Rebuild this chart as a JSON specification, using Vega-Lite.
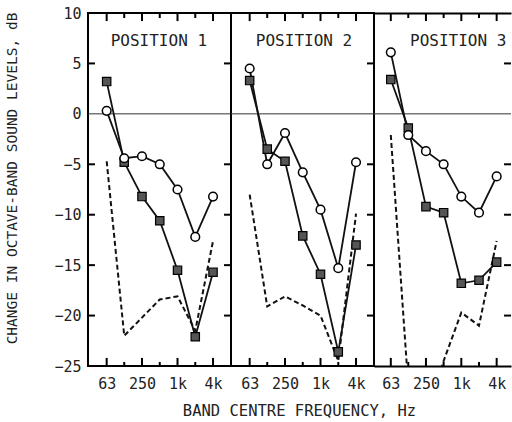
{
  "$schema": "https://vega.github.io/schema/vega-lite/v6.json",
  "padding": {"left": 2, "top": 5, "right": 0, "bottom": 0},
  "background": "white",
  "spacing": 0,
  "bounds": "flush",
  "config": {
    "view": {"stroke": "black", "strokeWidth": 2},
    "font": "DejaVu Sans Mono",
    "axis": {"minExtent": 0, "grid": false, "labelColor": "#222", "domainColor": "black", "domainWidth": 2, "titleColor": "#222", "titleFontWeight": "normal"}
  },
  "datasets": {
    "levels": [
      {"pos": 1, "s": "sq", "hz": 63, "dB": 3.2},
      {"pos": 1, "s": "sq", "hz": 125, "dB": -4.8},
      {"pos": 1, "s": "sq", "hz": 250, "dB": -8.2},
      {"pos": 1, "s": "sq", "hz": 500, "dB": -10.6},
      {"pos": 1, "s": "sq", "hz": 1000, "dB": -15.5},
      {"pos": 1, "s": "sq", "hz": 2000, "dB": -22.1},
      {"pos": 1, "s": "sq", "hz": 4000, "dB": -15.7},
      {"pos": 1, "s": "ci", "hz": 63, "dB": 0.3},
      {"pos": 1, "s": "ci", "hz": 125, "dB": -4.4},
      {"pos": 1, "s": "ci", "hz": 250, "dB": -4.2},
      {"pos": 1, "s": "ci", "hz": 500, "dB": -5.0},
      {"pos": 1, "s": "ci", "hz": 1000, "dB": -7.5},
      {"pos": 1, "s": "ci", "hz": 2000, "dB": -12.2},
      {"pos": 1, "s": "ci", "hz": 4000, "dB": -8.2},
      {"pos": 1, "s": "da", "hz": 63, "dB": -4.7},
      {"pos": 1, "s": "da", "hz": 125, "dB": -22.0},
      {"pos": 1, "s": "da", "hz": 250, "dB": -20.2},
      {"pos": 1, "s": "da", "hz": 500, "dB": -18.4},
      {"pos": 1, "s": "da", "hz": 1000, "dB": -18.1},
      {"pos": 1, "s": "da", "hz": 2000, "dB": -21.5},
      {"pos": 1, "s": "da", "hz": 4000, "dB": -12.6},
      {"pos": 2, "s": "sq", "hz": 63, "dB": 3.3},
      {"pos": 2, "s": "sq", "hz": 125, "dB": -3.5},
      {"pos": 2, "s": "sq", "hz": 250, "dB": -4.7},
      {"pos": 2, "s": "sq", "hz": 500, "dB": -12.1},
      {"pos": 2, "s": "sq", "hz": 1000, "dB": -15.9},
      {"pos": 2, "s": "sq", "hz": 2000, "dB": -23.6},
      {"pos": 2, "s": "sq", "hz": 4000, "dB": -13.0},
      {"pos": 2, "s": "ci", "hz": 63, "dB": 4.5},
      {"pos": 2, "s": "ci", "hz": 125, "dB": -5.0},
      {"pos": 2, "s": "ci", "hz": 250, "dB": -1.9},
      {"pos": 2, "s": "ci", "hz": 500, "dB": -5.8},
      {"pos": 2, "s": "ci", "hz": 1000, "dB": -9.5},
      {"pos": 2, "s": "ci", "hz": 2000, "dB": -15.3},
      {"pos": 2, "s": "ci", "hz": 4000, "dB": -4.8},
      {"pos": 2, "s": "da", "hz": 63, "dB": -8.0},
      {"pos": 2, "s": "da", "hz": 125, "dB": -19.1},
      {"pos": 2, "s": "da", "hz": 250, "dB": -18.1},
      {"pos": 2, "s": "da", "hz": 500, "dB": -19.0},
      {"pos": 2, "s": "da", "hz": 1000, "dB": -20.0},
      {"pos": 2, "s": "da", "hz": 2000, "dB": -24.5},
      {"pos": 2, "s": "da", "hz": 4000, "dB": -9.9},
      {"pos": 3, "s": "sq", "hz": 63, "dB": 3.4},
      {"pos": 3, "s": "sq", "hz": 125, "dB": -1.4},
      {"pos": 3, "s": "sq", "hz": 250, "dB": -9.2},
      {"pos": 3, "s": "sq", "hz": 500, "dB": -9.8},
      {"pos": 3, "s": "sq", "hz": 1000, "dB": -16.8},
      {"pos": 3, "s": "sq", "hz": 2000, "dB": -16.5},
      {"pos": 3, "s": "sq", "hz": 4000, "dB": -14.7},
      {"pos": 3, "s": "ci", "hz": 63, "dB": 6.1},
      {"pos": 3, "s": "ci", "hz": 125, "dB": -2.1},
      {"pos": 3, "s": "ci", "hz": 250, "dB": -3.7},
      {"pos": 3, "s": "ci", "hz": 500, "dB": -5.0},
      {"pos": 3, "s": "ci", "hz": 1000, "dB": -8.2},
      {"pos": 3, "s": "ci", "hz": 2000, "dB": -9.8},
      {"pos": 3, "s": "ci", "hz": 4000, "dB": -6.2},
      {"pos": 3, "s": "da", "hz": 63, "dB": -2.1},
      {"pos": 3, "s": "da", "hz": 125, "dB": -27.0},
      {"pos": 3, "s": "da", "hz": 250, "dB": -30.0},
      {"pos": 3, "s": "da", "hz": 500, "dB": -24.5},
      {"pos": 3, "s": "da", "hz": 1000, "dB": -19.7},
      {"pos": 3, "s": "da", "hz": 2000, "dB": -21.0},
      {"pos": 3, "s": "da", "hz": 4000, "dB": -12.6}
    ],
    "titles": [
      {"pos": 1, "label": "POSITION 1", "ref": 0},
      {"pos": 2, "label": "POSITION 2", "ref": 0},
      {"pos": 3, "label": "POSITION 3", "ref": 0}
    ],
    "levelticks": [{"dB": -20}, {"dB": -15}, {"dB": -10}, {"dB": -5}, {"dB": 5}]
  },
  "hconcat": [
    {
      "width": 143, "height": 353,
      "data": {"name": "levels"},
      "transform": [{"filter": "datum.pos == 1"}],
      "resolve": {"axis": {"x": "independent", "y": "independent"}},
      "layer": [
        {"data": {"name": "titles"}, "transform": [{"filter": "datum.pos == 1"}],
         "mark": {"type": "rule", "color": "#333", "strokeWidth": 1},
         "encoding": {"y": {"field": "ref", "type": "quantitative", "scale": {"domain": [-25, 10], "nice": false, "zero": false}, "axis": null}}},
        {"transform": [{"filter": "datum.s == 'sq' && indexof([63, 250, 1000, 4000], datum.hz) >= 0"}],
         "mark": {"type": "rule", "color": "black", "strokeWidth": 2},
         "encoding": {
           "x": {"field": "hz", "type": "quantitative", "scale": {"type": "log", "base": 2, "domain": [30.4, 8064], "nice": false}, "axis": null},
           "y": {"datum": -25, "type": "quantitative", "scale": {"domain": [-25, 10], "nice": false, "zero": false}, "axis": null},
           "y2": {"datum": -24.2}
         }},
        {"transform": [{"filter": "datum.s == 'sq' && indexof([125, 500, 2000], datum.hz) >= 0"}],
         "mark": {"type": "rule", "color": "black", "strokeWidth": 2},
         "encoding": {
           "x": {"field": "hz", "type": "quantitative", "scale": {"type": "log", "base": 2, "domain": [30.4, 8064], "nice": false}, "axis": null},
           "y": {"datum": -25, "type": "quantitative", "scale": {"domain": [-25, 10], "nice": false, "zero": false}, "axis": null},
           "y2": {"datum": -24.6}
         }},
        {"transform": [{"filter": "datum.s == 'sq' && indexof([63, 250, 1000, 4000], datum.hz) >= 0"}],
         "mark": {"type": "rule", "color": "black", "strokeWidth": 2},
         "encoding": {
           "x": {"field": "hz", "type": "quantitative", "scale": {"type": "log", "base": 2, "domain": [30.4, 8064], "nice": false}, "axis": null},
           "y": {"datum": 10, "type": "quantitative", "scale": {"domain": [-25, 10], "nice": false, "zero": false}, "axis": null},
           "y2": {"datum": 9.2}
         }},
        {"transform": [{"filter": "datum.s == 'sq' && indexof([125, 500, 2000], datum.hz) >= 0"}],
         "mark": {"type": "rule", "color": "black", "strokeWidth": 2},
         "encoding": {
           "x": {"field": "hz", "type": "quantitative", "scale": {"type": "log", "base": 2, "domain": [30.4, 8064], "nice": false}, "axis": null},
           "y": {"datum": 10, "type": "quantitative", "scale": {"domain": [-25, 10], "nice": false, "zero": false}, "axis": null},
           "y2": {"datum": 9.5}
         }},
        {"data": {"name": "levelticks"},
         "mark": {"type": "rule", "color": "black", "strokeWidth": 2},
         "encoding": {
           "y": {"field": "dB", "type": "quantitative", "scale": {"domain": [-25, 10], "nice": false, "zero": false}, "axis": null},
           "x": {"datum": 30.4, "type": "quantitative", "scale": {"type": "log", "base": 2, "domain": [30.4, 8064], "nice": false}, "axis": null},
           "x2": {"datum": 39.9}
         }},
        {"data": {"name": "levelticks"},
         "mark": {"type": "rule", "color": "black", "strokeWidth": 2},
         "encoding": {
           "y": {"field": "dB", "type": "quantitative", "scale": {"domain": [-25, 10], "nice": false, "zero": false}, "axis": null},
           "x": {"datum": 6137, "type": "quantitative", "scale": {"type": "log", "base": 2, "domain": [30.4, 8064], "nice": false}, "axis": null},
           "x2": {"datum": 8064}
         }},
        {"transform": [{"filter": "datum.s == 'da'"}],
         "mark": {"type": "line", "color": "#111", "strokeWidth": 2, "strokeDash": [5, 3], "clip": true},
         "encoding": {
           "x": {"field": "hz", "type": "quantitative", "scale": {"type": "log", "base": 2, "domain": [30.4, 8064], "nice": false},
                 "axis": {"orient": "bottom", "values": [63, 250, 1000, 4000], "labelExpr": "datum.value == 63 ? '63' : datum.value == 250 ? '250' : datum.value == 1000 ? '1k' : '4k'", "ticks": false, "domain": false, "labelPadding": 10, "labelFontSize": 15, "labelFlush": false, "labelOverlap": false, "title": null}},
           "y": {"field": "dB", "type": "quantitative", "scale": {"domain": [-25, 10], "nice": false, "zero": false},
                 "axis": {"orient": "left", "values": [-25, -20, -15, -10, -5, 0, 5, 10], "ticks": false, "domain": false, "labelPadding": 7, "labelFontSize": 15, "labelFlush": false, "labelOverlap": false, "title": "CHANGE IN OCTAVE-BAND SOUND LEVELS, dB", "titleFontSize": 14.5, "titleX": -76, "titleY": 165, "titleAngle": -90, "titleAlign": "center", "titleBaseline": "middle"}}
         }},
        {"transform": [{"filter": "datum.s == 'sq'"}],
         "mark": {"type": "line", "color": "#111", "strokeWidth": 1.8},
         "encoding": {
           "x": {"field": "hz", "type": "quantitative", "scale": {"type": "log", "base": 2, "domain": [30.4, 8064], "nice": false}, "axis": null},
           "y": {"field": "dB", "type": "quantitative", "scale": {"domain": [-25, 10], "nice": false, "zero": false}, "axis": null}
         }},
        {"transform": [{"filter": "datum.s == 'ci'"}],
         "mark": {"type": "line", "color": "#111", "strokeWidth": 1.8},
         "encoding": {
           "x": {"field": "hz", "type": "quantitative", "scale": {"type": "log", "base": 2, "domain": [30.4, 8064], "nice": false}, "axis": null},
           "y": {"field": "dB", "type": "quantitative", "scale": {"domain": [-25, 10], "nice": false, "zero": false}, "axis": null}
         }},
        {"transform": [{"filter": "datum.s == 'sq'"}],
         "mark": {"type": "point", "shape": "square", "filled": true, "fill": "#555", "stroke": "black", "strokeWidth": 1.2, "size": 70, "opacity": 1},
         "encoding": {
           "x": {"field": "hz", "type": "quantitative", "scale": {"type": "log", "base": 2, "domain": [30.4, 8064], "nice": false}, "axis": null},
           "y": {"field": "dB", "type": "quantitative", "scale": {"domain": [-25, 10], "nice": false, "zero": false}, "axis": null}
         }},
        {"transform": [{"filter": "datum.s == 'ci'"}],
         "mark": {"type": "point", "shape": "circle", "filled": true, "fill": "white", "stroke": "black", "strokeWidth": 1.5, "size": 75, "opacity": 1},
         "encoding": {
           "x": {"field": "hz", "type": "quantitative", "scale": {"type": "log", "base": 2, "domain": [30.4, 8064], "nice": false}, "axis": null},
           "y": {"field": "dB", "type": "quantitative", "scale": {"domain": [-25, 10], "nice": false, "zero": false}, "axis": null}
         }},
        {"data": {"name": "titles"}, "transform": [{"filter": "datum.pos == 1"}],
         "mark": {"type": "text", "fontSize": 16, "align": "center", "baseline": "middle", "color": "#222"},
         "encoding": {
           "x": {"datum": 483, "type": "quantitative", "scale": {"type": "log", "base": 2, "domain": [30.4, 8064], "nice": false}, "axis": null},
           "y": {"datum": 7.2, "type": "quantitative", "scale": {"domain": [-25, 10], "nice": false, "zero": false}, "axis": null},
           "text": {"field": "label"}
         }}
      ]
    },
    {
      "width": 143, "height": 353,
      "data": {"name": "levels"},
      "transform": [{"filter": "datum.pos == 2"}],
      "resolve": {"axis": {"x": "independent", "y": "independent"}},
      "layer": [
        {"data": {"name": "titles"}, "transform": [{"filter": "datum.pos == 2"}],
         "mark": {"type": "rule", "color": "#333", "strokeWidth": 1},
         "encoding": {"y": {"field": "ref", "type": "quantitative", "scale": {"domain": [-25, 10], "nice": false, "zero": false}, "axis": null}}},
        {"transform": [{"filter": "datum.s == 'sq' && indexof([63, 250, 1000, 4000], datum.hz) >= 0"}],
         "mark": {"type": "rule", "color": "black", "strokeWidth": 2},
         "encoding": {
           "x": {"field": "hz", "type": "quantitative", "scale": {"type": "log", "base": 2, "domain": [30.4, 8064], "nice": false}, "axis": null},
           "y": {"datum": -25, "type": "quantitative", "scale": {"domain": [-25, 10], "nice": false, "zero": false}, "axis": null},
           "y2": {"datum": -24.2}
         }},
        {"transform": [{"filter": "datum.s == 'sq' && indexof([125, 500, 2000], datum.hz) >= 0"}],
         "mark": {"type": "rule", "color": "black", "strokeWidth": 2},
         "encoding": {
           "x": {"field": "hz", "type": "quantitative", "scale": {"type": "log", "base": 2, "domain": [30.4, 8064], "nice": false}, "axis": null},
           "y": {"datum": -25, "type": "quantitative", "scale": {"domain": [-25, 10], "nice": false, "zero": false}, "axis": null},
           "y2": {"datum": -24.6}
         }},
        {"transform": [{"filter": "datum.s == 'sq' && indexof([63, 250, 1000, 4000], datum.hz) >= 0"}],
         "mark": {"type": "rule", "color": "black", "strokeWidth": 2},
         "encoding": {
           "x": {"field": "hz", "type": "quantitative", "scale": {"type": "log", "base": 2, "domain": [30.4, 8064], "nice": false}, "axis": null},
           "y": {"datum": 10, "type": "quantitative", "scale": {"domain": [-25, 10], "nice": false, "zero": false}, "axis": null},
           "y2": {"datum": 9.2}
         }},
        {"transform": [{"filter": "datum.s == 'sq' && indexof([125, 500, 2000], datum.hz) >= 0"}],
         "mark": {"type": "rule", "color": "black", "strokeWidth": 2},
         "encoding": {
           "x": {"field": "hz", "type": "quantitative", "scale": {"type": "log", "base": 2, "domain": [30.4, 8064], "nice": false}, "axis": null},
           "y": {"datum": 10, "type": "quantitative", "scale": {"domain": [-25, 10], "nice": false, "zero": false}, "axis": null},
           "y2": {"datum": 9.5}
         }},
        {"data": {"name": "levelticks"},
         "mark": {"type": "rule", "color": "black", "strokeWidth": 2},
         "encoding": {
           "y": {"field": "dB", "type": "quantitative", "scale": {"domain": [-25, 10], "nice": false, "zero": false}, "axis": null},
           "x": {"datum": 6137, "type": "quantitative", "scale": {"type": "log", "base": 2, "domain": [30.4, 8064], "nice": false}, "axis": null},
           "x2": {"datum": 8064}
         }},
        {"transform": [{"filter": "datum.s == 'da'"}],
         "mark": {"type": "line", "color": "#111", "strokeWidth": 2, "strokeDash": [5, 3], "clip": true},
         "encoding": {
           "x": {"field": "hz", "type": "quantitative", "scale": {"type": "log", "base": 2, "domain": [30.4, 8064], "nice": false},
                 "axis": {"orient": "bottom", "values": [63, 250, 1000, 4000], "labelExpr": "datum.value == 63 ? '63' : datum.value == 250 ? '250' : datum.value == 1000 ? '1k' : '4k'", "ticks": false, "domain": false, "labelPadding": 10, "labelFontSize": 15, "labelFlush": false, "labelOverlap": false, "title": "BAND CENTRE FREQUENCY, Hz", "titleFontSize": 15.5, "titleX": 68, "titleY": 44, "titleAlign": "center", "titleBaseline": "middle"}},
           "y": {"field": "dB", "type": "quantitative", "scale": {"domain": [-25, 10], "nice": false, "zero": false}, "axis": null}
         }},
        {"transform": [{"filter": "datum.s == 'sq'"}],
         "mark": {"type": "line", "color": "#111", "strokeWidth": 1.8},
         "encoding": {
           "x": {"field": "hz", "type": "quantitative", "scale": {"type": "log", "base": 2, "domain": [30.4, 8064], "nice": false}, "axis": null},
           "y": {"field": "dB", "type": "quantitative", "scale": {"domain": [-25, 10], "nice": false, "zero": false}, "axis": null}
         }},
        {"transform": [{"filter": "datum.s == 'ci'"}],
         "mark": {"type": "line", "color": "#111", "strokeWidth": 1.8},
         "encoding": {
           "x": {"field": "hz", "type": "quantitative", "scale": {"type": "log", "base": 2, "domain": [30.4, 8064], "nice": false}, "axis": null},
           "y": {"field": "dB", "type": "quantitative", "scale": {"domain": [-25, 10], "nice": false, "zero": false}, "axis": null}
         }},
        {"transform": [{"filter": "datum.s == 'sq'"}],
         "mark": {"type": "point", "shape": "square", "filled": true, "fill": "#555", "stroke": "black", "strokeWidth": 1.2, "size": 70, "opacity": 1},
         "encoding": {
           "x": {"field": "hz", "type": "quantitative", "scale": {"type": "log", "base": 2, "domain": [30.4, 8064], "nice": false}, "axis": null},
           "y": {"field": "dB", "type": "quantitative", "scale": {"domain": [-25, 10], "nice": false, "zero": false}, "axis": null}
         }},
        {"transform": [{"filter": "datum.s == 'ci'"}],
         "mark": {"type": "point", "shape": "circle", "filled": true, "fill": "white", "stroke": "black", "strokeWidth": 1.5, "size": 75, "opacity": 1},
         "encoding": {
           "x": {"field": "hz", "type": "quantitative", "scale": {"type": "log", "base": 2, "domain": [30.4, 8064], "nice": false}, "axis": null},
           "y": {"field": "dB", "type": "quantitative", "scale": {"domain": [-25, 10], "nice": false, "zero": false}, "axis": null}
         }},
        {"data": {"name": "titles"}, "transform": [{"filter": "datum.pos == 2"}],
         "mark": {"type": "text", "fontSize": 16, "align": "center", "baseline": "middle", "color": "#222"},
         "encoding": {
           "x": {"datum": 525, "type": "quantitative", "scale": {"type": "log", "base": 2, "domain": [30.4, 8064], "nice": false}, "axis": null},
           "y": {"datum": 7.2, "type": "quantitative", "scale": {"domain": [-25, 10], "nice": false, "zero": false}, "axis": null},
           "text": {"field": "label"}
         }}
      ]
    },
    {
      "width": 137, "height": 353,
      "view": {"stroke": null},
      "data": {"name": "levels"},
      "transform": [{"filter": "datum.pos == 3"}],
      "resolve": {"axis": {"x": "independent", "y": "independent"}},
      "layer": [
        {"data": {"name": "titles"}, "transform": [{"filter": "datum.pos == 3"}],
         "mark": {"type": "rule", "color": "#333", "strokeWidth": 1},
         "encoding": {"y": {"field": "ref", "type": "quantitative", "scale": {"domain": [-25, 10], "nice": false, "zero": false}, "axis": null}}},
        {"transform": [{"filter": "datum.s == 'sq' && indexof([63, 250, 1000, 4000], datum.hz) >= 0"}],
         "mark": {"type": "rule", "color": "black", "strokeWidth": 2},
         "encoding": {
           "x": {"field": "hz", "type": "quantitative", "scale": {"type": "log", "base": 2, "domain": [32.6, 7018], "nice": false}, "axis": null},
           "y": {"datum": -25, "type": "quantitative", "scale": {"domain": [-25, 10], "nice": false, "zero": false}, "axis": null},
           "y2": {"datum": -24.2}
         }},
        {"transform": [{"filter": "datum.s == 'sq' && indexof([125, 500, 2000], datum.hz) >= 0"}],
         "mark": {"type": "rule", "color": "black", "strokeWidth": 2},
         "encoding": {
           "x": {"field": "hz", "type": "quantitative", "scale": {"type": "log", "base": 2, "domain": [32.6, 7018], "nice": false}, "axis": null},
           "y": {"datum": -25, "type": "quantitative", "scale": {"domain": [-25, 10], "nice": false, "zero": false}, "axis": null},
           "y2": {"datum": -24.6}
         }},
        {"transform": [{"filter": "datum.s == 'sq' && indexof([63, 250, 1000, 4000], datum.hz) >= 0"}],
         "mark": {"type": "rule", "color": "black", "strokeWidth": 2},
         "encoding": {
           "x": {"field": "hz", "type": "quantitative", "scale": {"type": "log", "base": 2, "domain": [32.6, 7018], "nice": false}, "axis": null},
           "y": {"datum": 10, "type": "quantitative", "scale": {"domain": [-25, 10], "nice": false, "zero": false}, "axis": null},
           "y2": {"datum": 9.2}
         }},
        {"transform": [{"filter": "datum.s == 'sq' && indexof([125, 500, 2000], datum.hz) >= 0"}],
         "mark": {"type": "rule", "color": "black", "strokeWidth": 2},
         "encoding": {
           "x": {"field": "hz", "type": "quantitative", "scale": {"type": "log", "base": 2, "domain": [32.6, 7018], "nice": false}, "axis": null},
           "y": {"datum": 10, "type": "quantitative", "scale": {"domain": [-25, 10], "nice": false, "zero": false}, "axis": null},
           "y2": {"datum": 9.5}
         }},
        {"data": {"name": "levelticks"},
         "mark": {"type": "rule", "color": "black", "strokeWidth": 2},
         "encoding": {
           "y": {"field": "dB", "type": "quantitative", "scale": {"domain": [-25, 10], "nice": false, "zero": false}, "axis": null},
           "x": {"datum": 5341, "type": "quantitative", "scale": {"type": "log", "base": 2, "domain": [32.6, 7018], "nice": false}, "axis": null},
           "x2": {"datum": 7018}
         }},
        {"transform": [{"filter": "datum.s == 'da'"}],
         "mark": {"type": "line", "color": "#111", "strokeWidth": 2, "strokeDash": [5, 3], "clip": true},
         "encoding": {
           "x": {"field": "hz", "type": "quantitative", "scale": {"type": "log", "base": 2, "domain": [32.6, 7018], "nice": false},
                 "axis": {"orient": "bottom", "values": [63, 250, 1000, 4000], "labelExpr": "datum.value == 63 ? '63' : datum.value == 250 ? '250' : datum.value == 1000 ? '1k' : '4k'", "ticks": false, "domain": true, "labelPadding": 10, "labelFontSize": 15, "labelFlush": false, "labelOverlap": false, "title": null}},
           "y": {"field": "dB", "type": "quantitative", "scale": {"domain": [-25, 10], "nice": false, "zero": false}, "axis": null}
         }},
        {"transform": [{"filter": "datum.s == 'sq'"}],
         "mark": {"type": "line", "color": "#111", "strokeWidth": 1.8},
         "encoding": {
           "x": {"field": "hz", "type": "quantitative", "scale": {"type": "log", "base": 2, "domain": [32.6, 7018], "nice": false}, "axis": null},
           "y": {"field": "dB", "type": "quantitative", "scale": {"domain": [-25, 10], "nice": false, "zero": false}, "axis": null}
         }},
        {"transform": [{"filter": "datum.s == 'ci'"}],
         "mark": {"type": "line", "color": "#111", "strokeWidth": 1.8},
         "encoding": {
           "x": {"field": "hz", "type": "quantitative", "scale": {"type": "log", "base": 2, "domain": [32.6, 7018], "nice": false}, "axis": null},
           "y": {"field": "dB", "type": "quantitative", "scale": {"domain": [-25, 10], "nice": false, "zero": false}, "axis": null}
         }},
        {"transform": [{"filter": "datum.s == 'sq'"}],
         "mark": {"type": "point", "shape": "square", "filled": true, "fill": "#555", "stroke": "black", "strokeWidth": 1.2, "size": 70, "opacity": 1},
         "encoding": {
           "x": {"field": "hz", "type": "quantitative", "scale": {"type": "log", "base": 2, "domain": [32.6, 7018], "nice": false}, "axis": null},
           "y": {"field": "dB", "type": "quantitative", "scale": {"domain": [-25, 10], "nice": false, "zero": false}, "axis": null}
         }},
        {"transform": [{"filter": "datum.s == 'ci'"}],
         "mark": {"type": "point", "shape": "circle", "filled": true, "fill": "white", "stroke": "black", "strokeWidth": 1.5, "size": 75, "opacity": 1},
         "encoding": {
           "x": {"field": "hz", "type": "quantitative", "scale": {"type": "log", "base": 2, "domain": [32.6, 7018], "nice": false}, "axis": null},
           "y": {"field": "dB", "type": "quantitative", "scale": {"domain": [-25, 10], "nice": false, "zero": false}, "axis": null}
         }},
        {"data": {"name": "titles"}, "transform": [{"filter": "datum.pos == 3"}],
         "mark": {"type": "text", "fontSize": 16, "align": "center", "baseline": "middle", "color": "#222"},
         "encoding": {
           "x": {"datum": 886, "type": "quantitative", "scale": {"type": "log", "base": 2, "domain": [32.6, 7018], "nice": false},
                 "axis": {"orient": "top", "labels": false, "ticks": false, "domain": true, "title": null}},
           "y": {"datum": 7.2, "type": "quantitative", "scale": {"domain": [-25, 10], "nice": false, "zero": false}, "axis": null},
           "text": {"field": "label"}
         }}
      ]
    }
  ]
}
